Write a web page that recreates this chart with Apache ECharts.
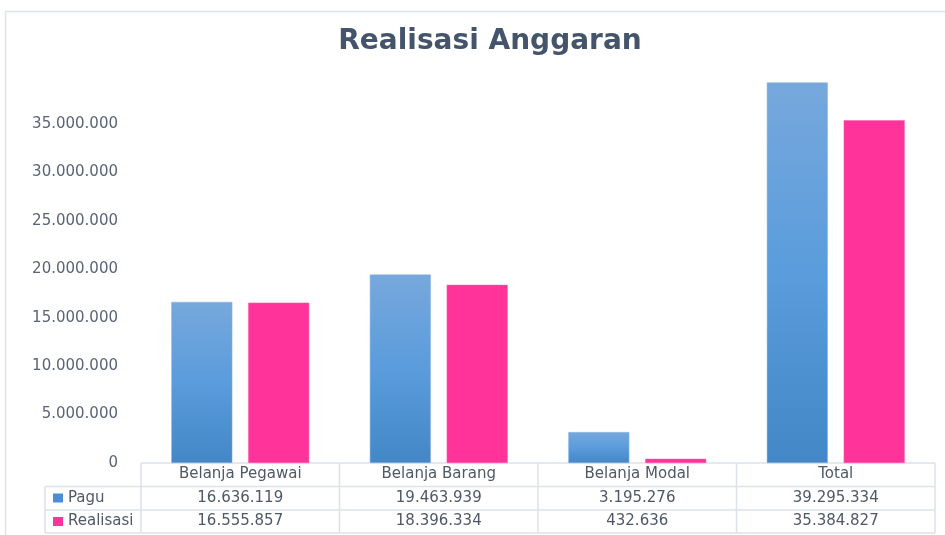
<!DOCTYPE html>
<html>
<head>
<meta charset="utf-8">
<script src="https://cdn.jsdelivr.net/npm/echarts@6/dist/echarts.min.js"></script>
<style>
  html, body { margin: 0; padding: 0; background: #fff; }
  #chart { width: 945px; height: 535px; }
</style>
</head>
<body>
<div id="chart"></div>
<script>
// data
const categories = ['Belanja Pegawai', 'Belanja Barang', 'Belanja Modal', 'Total']
const pagu = [16636119, 19463939, 3195276, 39295334]
const realisasi = [16555857, 18396334, 432636, 35384827]
const yMax = 40000000
const yStep = 5000000

// titik ribuan ala Indonesia
function fmt(v) {
    return String(v).replace(/\B(?=(\d{3})+(?!\d))/g, '.')
}

const W = 945, H = 535
const gridLeft = 141, gridRight = 935, zeroY = 463, gridTop = 75.6
const rowH = 23.5
const tableLeft = 45
const lineColor = '#dde1e8'
const textColor = '#4f5867'
const font = 'DejaVu Sans'

// garis tabel data
function tableLines() {
    let g = []
    let colW = (gridRight - gridLeft) / categories.length
    let rows = [zeroY, zeroY + rowH, zeroY + rowH * 2, zeroY + rowH * 3 - 0.5]
    rows.forEach((y, i) => {
        g.push({
            type: 'line',
            shape: { x1: i === 0 ? gridLeft : tableLeft, y1: y, x2: gridRight, y2: y },
            style: { stroke: lineColor, lineWidth: 1.5 }
        })
    })
    g.push({
        type: 'line',
        shape: { x1: tableLeft, y1: rows[1], x2: tableLeft, y2: rows[3] },
        style: { stroke: lineColor, lineWidth: 1.5 }
    })
    for (let i = 0; i <= categories.length; i++) {
        let x = gridLeft + colW * i
        g.push({
            type: 'line',
            shape: { x1: x, y1: rows[0], x2: x, y2: rows[3] },
            style: { stroke: lineColor, lineWidth: 1.5 }
        })
    }
    // bingkai luar
    g.push({
        type: 'rect',
        shape: { x: 5.5, y: 11.5, width: W + 20, height: H + 20 },
        style: { fill: 'none', stroke: '#dfe3ea', lineWidth: 1.5 },
        z: -1
    })
    return g
}

function rowAxis(offset, values) {
    return {
        type: 'category',
        data: categories,
        gridIndex: 0,
        position: 'bottom',
        offset: offset,
        axisLine: { show: false },
        axisTick: { show: false },
        axisLabel: {
            margin: 4,
            fontFamily: font,
            fontSize: 15,
            lineHeight: 15,
            color: textColor,
            interval: 0,
            formatter: values ? (v, i) => fmt(values[i]) : undefined
        }
    }
}

let chart = echarts.init(document.getElementById('chart'))
chart.setOption({
    animation: false,
    title: {
        text: 'Realisasi Anggaran',
        left: 485,
        textAlign: 'center',
        top: 23,
        textStyle: {
            fontFamily: font,
            fontWeight: 'bold',
            fontSize: 28,
            color: '#44546a'
        }
    },
    legend: {
        orient: 'vertical',
        left: 53,
        top: 490.5,
        height: 80,
        padding: 0,
        itemWidth: 10,
        itemHeight: 9,
        itemGap: 8.5,
        icon: 'rect',
        textStyle: { fontFamily: font, fontSize: 15, lineHeight: 15, color: textColor },
        data: [
            { name: 'Pagu', itemStyle: { color: '#4a8ed3', borderWidth: 0 } },
            { name: 'Realisasi', itemStyle: { color: '#ff3399', borderWidth: 0 } }
        ]
    },
    grid: {
        left: gridLeft,
        right: W - gridRight,
        top: gridTop,
        bottom: H - zeroY
    },
    xAxis: [
        rowAxis(0, null),
        rowAxis(rowH, pagu),
        rowAxis(rowH * 2, realisasi)
    ],
    yAxis: {
        type: 'value',
        min: 0,
        max: yMax,
        interval: yStep,
        splitLine: { show: false },
        axisLine: { show: false },
        axisTick: { show: false },
        axisLabel: {
            showMaxLabel: false,
            margin: 23,
            fontFamily: font,
            fontSize: 15,
            color: '#5a6474',
            formatter: v => fmt(v)
        }
    },
    series: [
        {
            name: 'Pagu',
            type: 'bar',
            data: pagu,
            barWidth: 61,
            barGap: '26%',
            itemStyle: {
                color: {
                    type: 'linear', x: 0, y: 0, x2: 0, y2: 1,
                    colorStops: [
                        { offset: 0, color: '#77a8dc' },
                        { offset: 0.5, color: '#5a9cdc' },
                        { offset: 1, color: '#4387c7' }
                    ]
                },
                borderColor: '#8bb5e2',
                borderWidth: 0.5
            }
        },
        {
            name: 'Realisasi',
            type: 'bar',
            data: realisasi,
            barWidth: 61,
            itemStyle: { color: '#ff3399', borderColor: '#ff5aab', borderWidth: 0.5 }
        }
    ],
    graphic: tableLines()
})
</script>
</body>
</html>
